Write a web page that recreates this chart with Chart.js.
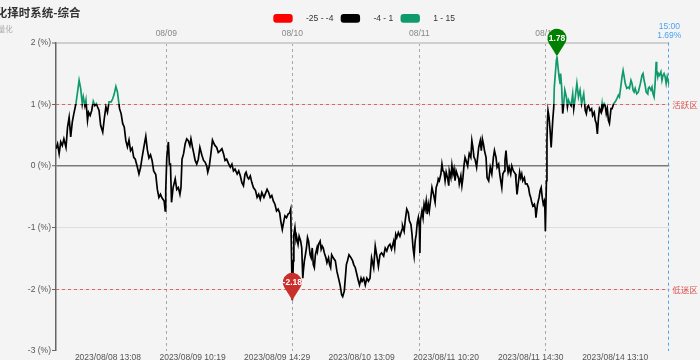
<!DOCTYPE html>
<html><head><meta charset="utf-8">
<script src="https://cdn.jsdelivr.net/npm/chart.js@4.4.0/dist/chart.umd.min.js"></script>
<style>html,body{margin:0;padding:0;background:#f4f4f4;}#wrap{width:700px;height:360px;}</style>
</head><body><div id="wrap"><canvas id="c" width="700" height="360"></canvas></div>
<script>
const titleText = '量化择时系统-综合';
const subtitleText = '量化';

// [trading-minute index, change %]
const day1Points = [[0,0.28],[3,0.36],[6,0.20],[9,0.39],[12,0.33],[15,0.44],[19,0.30],[22,0.63],[25,0.79],[28,0.47],[31,0.71],[34,0.85],[38,1.01],[41,1.20],[44,1.39],[47,1.26],[50,1.01],[52,1.12],[55,0.98],[57,1.07],[60,0.74],[62,0.87],[65,0.82],[68,0.90],[71,1.05],[74,0.98],[77,1.01],[79,0.96],[82,0.90],[85,0.66],[89,0.55],[92,0.77],[95,0.96],[98,0.87],[101,1.04],[105,1.04],[108,1.09],[111,1.17],[114,1.29],[117,1.20],[121,0.93],[124,0.85],[127,0.69],[130,0.63],[133,0.41],[136,0.31],[139,0.42],[142,0.25],[145,0.29],[148,0.14],[151,0.11],[155,-0.02],[158,-0.13],[161,-0.03],[164,0.14],[167,0.29],[171,0.48],[174,0.26],[177,0.13],[180,0.18],[183,0.09],[186,-0.08],[190,-0.14],[193,-0.38],[196,-0.51],[199,-0.46],[202,-0.52],[206,-0.57],[208,-0.73],[209,-0.40]];
const day2Points = [[211,0.14],[214,0.39],[216,0.03],[218,0.03],[220,-0.59],[223,-0.35],[227,-0.21],[230,-0.38],[233,-0.35],[236,-0.46],[238,-0.35],[240,0.11],[243,0.20],[246,0.36],[249,0.44],[252,0.41],[255,0.33],[257,0.44],[260,0.30],[262,0.22],[265,0.09],[268,0.03],[271,0.11],[274,0.30],[278,0.17],[281,0.09],[284,0.06],[287,0.00],[289,-0.10],[292,0.00],[295,0.20],[298,0.42],[301,0.36],[303,0.33],[306,0.30],[309,0.22],[313,0.25],[316,0.28],[319,0.20],[322,0.09],[325,0.11],[329,0.03],[332,-0.02],[335,0.03],[338,-0.08],[341,-0.05],[345,-0.13],[348,-0.08],[351,-0.16],[354,-0.27],[357,-0.32],[360,-0.13],[362,-0.10],[365,-0.19],[367,-0.21],[370,-0.16],[373,-0.27],[376,-0.35],[380,-0.40],[383,-0.51],[386,-0.46],[389,-0.54],[392,-0.43],[396,-0.51],[402,-0.38],[405,-0.43],[408,-0.51],[411,-0.48],[414,-0.57],[417,-0.62],[420,-0.73],[423,-0.70],[426,-0.76],[428,-0.89],[431,-1.03],[434,-0.89],[436,-0.81],[439,-0.84],[442,-0.78],[445,-0.76],[447,-0.70]];
const day3Points = [[450,-2.18],[452,-1.54],[453,-1.11],[455,-1.00],[457,-1.19],[458,-1.14],[461,-1.27],[463,-1.14],[466,-1.22],[468,-1.33],[470,-1.82],[471,-1.71],[473,-1.54],[475,-1.44],[477,-1.33],[479,-1.16],[481,-1.22],[484,-1.44],[486,-1.49],[488,-1.33],[490,-1.60],[492,-1.65],[494,-1.44],[497,-1.33],[498,-1.38],[500,-1.27],[503,-1.22],[505,-1.35],[507,-1.30],[509,-1.33],[511,-1.41],[514,-1.49],[516,-1.57],[519,-1.49],[521,-1.60],[523,-1.65],[525,-1.44],[528,-1.49],[532,-1.54],[535,-1.71],[538,-1.82],[541,-1.93],[544,-2.09],[546,-2.12],[549,-2.03],[551,-1.82],[553,-1.60],[555,-1.54],[558,-1.44],[562,-1.49],[565,-1.54],[567,-1.60],[570,-1.65],[573,-1.76],[576,-1.87],[578,-1.93],[581,-1.82],[583,-1.87],[586,-1.82],[589,-1.93],[592,-1.82],[595,-1.87],[598,-1.82],[601,-1.49],[605,-1.65],[608,-1.30],[611,-1.46],[614,-1.63],[617,-1.44],[620,-1.41],[624,-1.46],[627,-1.33],[630,-1.38],[633,-1.30],[636,-1.27],[639,-1.35],[643,-1.22],[645,-1.33],[647,-1.11],[649,-1.16],[652,-1.08],[655,-1.14],[659,-1.03],[660,-0.97],[663,-1.06],[665,-0.89],[668,-0.70],[671,-0.76],[673,-0.89],[676,-0.95],[678,-1.11],[680,-1.33],[682,-1.46],[684,-1.22],[686,-1.11],[688,-0.92],[690,-0.84]];
const day4Points = [[692,-1.00],[693,-1.41],[694,-0.89],[697,-0.73],[699,-0.84],[701,-0.62],[703,-0.70],[705,-0.57],[707,-0.78],[709,-0.62],[711,-0.73],[714,-0.51],[716,-0.35],[719,-0.46],[722,-0.59],[724,-0.35],[727,-0.27],[728,-0.21],[730,-0.24],[733,-0.13],[735,0.03],[737,-0.08],[739,-0.10],[741,-0.24],[743,-0.10],[746,-0.21],[748,-0.32],[749,-0.08],[752,-0.19],[754,0.01],[756,-0.13],[758,-0.05],[760,-0.24],[762,-0.08],[765,-0.16],[767,-0.21],[768,-0.29],[771,-0.16],[773,-0.32],[775,-0.19],[777,0.01],[779,0.14],[781,0.09],[784,0.00],[786,0.14],[787,0.20],[790,0.14],[792,0.41],[794,0.30],[796,0.14],[798,0.11],[801,-0.02],[805,0.30],[808,0.41],[810,0.25],[812,0.44],[814,0.36],[816,0.25],[819,0.14],[821,-0.19],[824,-0.24],[827,-0.02],[830,-0.13],[833,0.14],[835,0.25],[838,0.14],[840,-0.02],[843,0.03],[845,-0.13],[847,-0.24],[849,-0.35],[851,-0.13],[854,-0.08],[855,0.09],[857,0.25],[859,0.03],[861,-0.10],[863,-0.02],[866,-0.13],[868,0.00],[871,-0.08],[875,-0.13],[876,-0.24],[878,-0.46],[881,-0.24],[883,-0.10],[885,-0.19],[887,-0.13],[889,-0.24],[892,-0.19],[894,-0.29],[897,-0.29],[900,-0.35],[902,-0.46],[904,-0.51],[906,-0.59],[908,-0.65],[911,-0.62],[913,-0.70],[914,-0.84],[917,-0.62],[920,-0.51],[922,-0.40],[924,-0.35],[926,-0.51],[928,-0.62],[930,-0.57],[931,-0.68],[932,-1.06]];
const day5Points = [[934,-0.24],[935,0.41],[936,0.74],[937,0.90],[939,0.79],[941,0.58],[943,0.30],[946,0.74],[948,0.96],[949,1.28],[951,1.50],[953,1.72],[954,1.78],[956,1.61],[958,1.45],[960,1.34],[961,1.50],[963,1.28],[965,0.85],[967,1.01],[969,1.23],[972,1.12],[974,0.96],[976,1.07],[979,1.01],[981,0.98],[984,1.17],[986,0.93],[989,1.12],[992,1.34],[995,1.12],[998,1.23],[1001,1.01],[1005,1.17],[1008,0.90],[1010,0.85],[1012,0.96],[1014,0.98],[1017,0.90],[1020,0.93],[1022,0.82],[1025,0.87],[1027,0.74],[1029,0.69],[1031,0.52],[1033,0.77],[1035,0.93],[1038,0.87],[1040,1.01],[1041,0.93],[1044,1.01],[1046,0.98],[1048,0.85],[1050,0.93],[1052,0.74],[1054,0.69],[1057,0.93],[1059,0.93],[1062,1.01],[1065,1.04],[1068,1.09],[1071,1.15],[1073,1.12],[1076,1.31],[1078,1.45],[1080,1.55],[1082,1.45],[1084,1.34],[1087,1.26],[1090,1.28],[1092,1.26],[1095,1.39],[1097,1.34],[1099,1.23],[1101,1.20],[1103,1.26],[1106,1.17],[1109,1.20],[1113,1.34],[1116,1.47],[1118,1.50],[1120,1.39],[1122,1.31],[1124,1.20],[1127,1.17],[1128,1.26],[1130,1.28],[1133,1.23],[1135,1.28],[1137,1.17],[1139,1.12],[1141,1.34],[1143,1.69],[1144,1.55],[1146,1.45],[1147,1.50],[1149,1.47],[1152,1.53],[1154,1.39],[1156,1.47],[1158,1.50],[1160,1.45],[1162,1.34],[1164,1.45],[1167,1.34],[1168,1.36]];

const dayStartIndex = [210, 450, 692, 933];
const dayLabels = ['08/09', '08/10', '08/11', '08/14'];
const timeTickIndex = [99, 260, 421, 582, 743, 904, 1065];
const timeTickLabels = ['2023/08/08 13:08', '2023/08/09 10:19', '2023/08/09 14:29', '2023/08/10 13:09', '2023/08/11 10:20', '2023/08/11 14:30', '2023/08/14 13:10'];
const yMin = -3, yMax = 2;
const lastIndex = 1168;
const lastTimeLabel = '15:00';
const lastPctLabel = '1.69%';
const pieceLabels = ['-25 - -4', '-4 - 1', '1 - 15'];
const pieceLow = [-25, -4, 1];
const pieceHigh = [-4, 1, 15];
const pieceColors = ['#ff0000', '#000000', '#10996b'];
const bandLevels = [1, -2];
const bandLabels = ['活跃区', '低迷区'];

const FONT = "'Liberation Sans', 'Noto Sans CJK SC', sans-serif";
const CJK = "'Noto Sans CJK SC', sans-serif";
Chart.defaults.font.family = FONT;
Chart.defaults.font.size = 8.5;

const allPoints = [...day1Points, ...day2Points, ...day3Points, ...day4Points, ...day5Points].map(p => ({x: p[0], y: p[1]}));

function lineGradient(context) {
  const chart = context.chart;
  const a = chart.chartArea;
  if (!a) return '#000';
  const ys = chart.scales.y;
  const g = chart.ctx.createLinearGradient(0, a.top, 0, a.bottom);
  const frac = v => Math.min(1, Math.max(0, (ys.getPixelForValue(v) - a.top) / (a.bottom - a.top)));
  const order = pieceLow.map((_, i) => i).sort((i, j) => pieceHigh[j] - pieceHigh[i]);
  order.forEach(i => { g.addColorStop(frac(pieceHigh[i]), pieceColors[i]); g.addColorStop(frac(pieceLow[i]), pieceColors[i]); });
  return g;
}

function pinPath(ctx, cx, tipY, r, h) {
  const cy = tipY - h;
  const b = Math.acos(r / h);
  ctx.beginPath();
  ctx.arc(cx, cy, r, Math.PI / 2 + b, Math.PI / 2 - b);
  ctx.lineTo(cx, tipY);
  ctx.closePath();
  return cy;
}

const decor = {
  id: 'decor',
  beforeDraw(chart) {
    const c = chart.ctx; c.save(); c.fillStyle = '#f4f4f4'; c.fillRect(0, 0, chart.width, chart.height); c.restore();
  },
  beforeDatasetsDraw(chart) {
    const {ctx, chartArea: a, scales: {x, y}} = chart;
    ctx.save();
    ctx.lineWidth = 1;
    ctx.setLineDash([3, 3]);
    ctx.strokeStyle = '#e06262';
    ctx.fillStyle = '#d9534f';
    ctx.font = '8.5px ' + CJK;
    ctx.textBaseline = 'middle'; ctx.textAlign = 'left';
    bandLevels.forEach((lv, i) => {
      const py = Math.round(y.getPixelForValue(lv)) + 0.5;
      ctx.beginPath(); ctx.moveTo(a.left, py); ctx.lineTo(a.right, py); ctx.stroke();
      ctx.fillText(bandLabels[i], a.right + 3, py);
    });
    const px = Math.round(x.getPixelForValue(lastIndex)) - 0.5;
    ctx.strokeStyle = '#4da3f0';
    ctx.beginPath(); ctx.moveTo(px, a.top); ctx.lineTo(px, a.bottom); ctx.stroke();
    ctx.restore();
  },
  afterDatasetsDraw(chart) {
    const {ctx, scales: {x, y}} = chart;
    ctx.save();
    let iMax = 0, iMin = 0;
    allPoints.forEach((p, i) => { if (p.y > allPoints[iMax].y) iMax = i; if (p.y < allPoints[iMin].y) iMin = i; });
    [[iMax, '#008000'], [iMin, '#c9302c']].forEach(([i, col]) => {
      const p = allPoints[i];
      const cx = x.getPixelForValue(p.x), ty = y.getPixelForValue(p.y);
      ctx.fillStyle = col;
      const cy = pinPath(ctx, cx, ty, 9.5, 18);
      ctx.fill();
      ctx.fillStyle = '#fff';
      ctx.font = 'bold 8.5px ' + FONT;
      ctx.textAlign = 'center'; ctx.textBaseline = 'middle';
      ctx.fillText(p.y.toFixed(2), cx, cy + 0.5);
    });
    const lx = x.getPixelForValue(lastIndex);
    ctx.fillStyle = '#4da3f0';
    ctx.font = '8.5px ' + FONT;
    ctx.textAlign = 'center'; ctx.textBaseline = 'middle';
    ctx.fillText(lastTimeLabel, lx, 27);
    ctx.fillText(lastPctLabel, lx, 35.5);
    ctx.textAlign = 'left';
    ctx.font = 'bold 11.5px ' + CJK;
    ctx.fillStyle = '#333';
    const cut = ctx.measureText(titleText.slice(0, 2)).width;
    ctx.fillText(titleText, 7.3 - cut, 13);
    ctx.font = '7.5px ' + CJK;
    ctx.fillStyle = '#aaa';
    ctx.textAlign = 'right';
    ctx.fillText(subtitleText, 12.7, 29);
    ctx.font = '8.5px ' + FONT;
    ctx.textAlign = 'left';
    let lxp = 273.3;
    pieceLabels.forEach((t, i) => {
      ctx.fillStyle = pieceColors[i];
      ctx.beginPath(); ctx.roundRect(lxp, 14, 19.4, 8.7, 3); ctx.fill();
      ctx.fillStyle = '#333';
      ctx.fillText(t, lxp + 19.4 + 13.3, 18.5);
      lxp += 19.4 + 13.3 + ctx.measureText(t).width + 7.3;
    });
    ctx.restore();
  }
};

new Chart(document.getElementById('c'), {
  type: 'line',
  data: { datasets: [{ data: allPoints, borderColor: lineGradient, borderWidth: 1.7, pointRadius: 0, tension: 0, fill: false }] },
  options: {
    responsive: false, animation: false, devicePixelRatio: 1,
    layout: { padding: { left: 0, right: 30.7, top: 0, bottom: -3.8 } },
    plugins: { legend: { display: false }, tooltip: { enabled: false } },
    scales: {
      x: {
        type: 'linear', position: 'bottom', min: 0, max: lastIndex,
        afterBuildTicks: s => { s.ticks = timeTickIndex.map(v => ({ value: v })); },
        ticks: { autoSkip: false, maxRotation: 0, padding: 2.2, color: '#555', font: { size: 8.5, lineHeight: 1 }, callback: (v, i) => timeTickLabels[i] },
        grid: { drawOnChartArea: false, drawTicks: false, color: 'rgba(0,0,0,0)' },
        border: { display: false }
      },
      x2: {
        type: 'linear', position: 'top', min: 0, max: lastIndex,
        afterBuildTicks: s => { s.ticks = dayStartIndex.map(v => ({ value: v })); },
        afterFit: s => { s.height = 42.7; },
        ticks: { autoSkip: false, maxRotation: 0, padding: 4, color: '#888', callback: (v, i) => dayLabels[i] },
        grid: { drawTicks: false, color: '#a8a8a8', lineWidth: 1 },
        border: { display: false, dash: [3, 3] }
      },
      y: {
        min: yMin, max: yMax,
        afterFit: s => { s.width = 56; },
        ticks: { stepSize: 1, padding: 1, color: '#555', callback: v => v + ' (%)' },
        grid: {
          color: c => c.tick.value === 0 ? '#7a7a7a' : (c.tick.value === yMax ? '#cfcfcf' : (c.tick.value === yMin ? 'rgba(0,0,0,0)' : '#dedede')),
          lineWidth: c => c.tick.value === 0 ? 1.5 : (c.tick.value === yMax ? 2 : 1),
          tickColor: '#666', tickLength: 4, tickWidth: 1
        },
        border: { display: true, color: '#666', width: 1.5 }
      }
    }
  },
  plugins: [decor]
});
</script>
</body></html>
